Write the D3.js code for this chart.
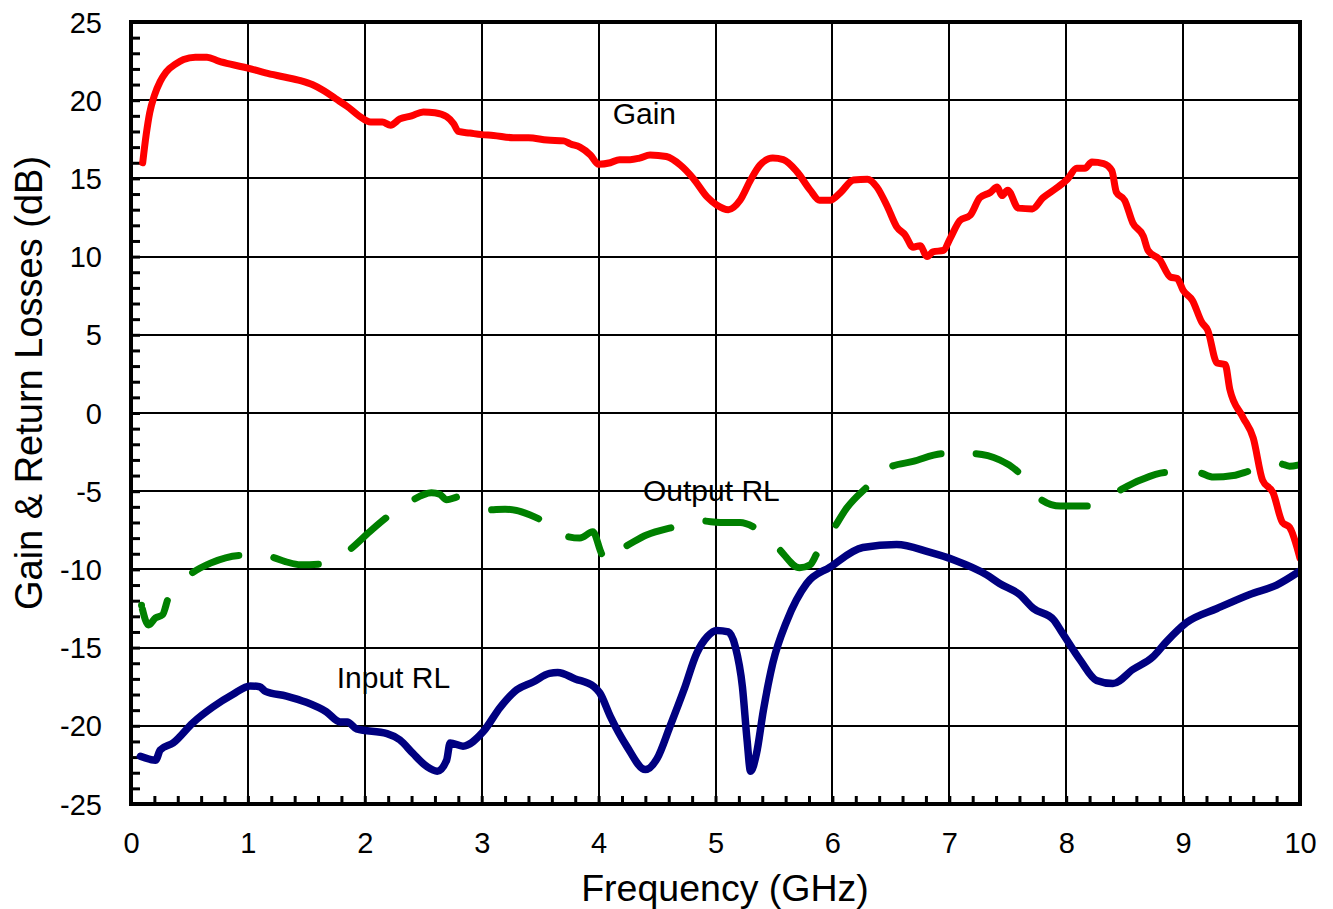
<!DOCTYPE html>
<html>
<head>
<meta charset="utf-8">
<script src="https://cdn.jsdelivr.net/npm/d3@7"></script>
<style>
  html, body { margin: 0; padding: 0; background: #fff; }
  svg { display: block; }
  text { font-family: "Liberation Sans", Arial, sans-serif; fill: #000; }
</style>
</head>
<body>
<svg id="chart" width="1333" height="909"></svg>
<script>
// ---------- data ----------
const xTicks = [0, 1, 2, 3, 4, 5, 6, 7, 8, 9, 10];
const yTicks = [-25, -20, -15, -10, -5, 0, 5, 10, 15, 20, 25];

const gainFreq = [0.10,0.13,0.16,0.20,0.25,0.30,0.38,0.45,0.55,0.65,0.75,0.85,1.00,1.15,1.30,1.45,1.55,1.65,1.75,1.85,1.95,2.05,2.15,2.22,2.30,2.40,2.50,2.60,2.70,2.76,2.80,2.90,3.00,3.10,3.27,3.40,3.56,3.70,3.76,3.84,3.93,4.00,4.10,4.18,4.27,4.35,4.44,4.58,4.70,4.81,4.93,5.01,5.11,5.21,5.30,5.38,5.49,5.58,5.70,5.81,5.89,5.98,6.07,6.18,6.30,6.38,6.47,6.55,6.62,6.69,6.75,6.81,6.86,6.95,7.01,7.09,7.18,7.26,7.35,7.41,7.45,7.50,7.59,7.71,7.80,7.92,8.01,8.09,8.16,8.22,8.32,8.39,8.43,8.50,8.57,8.66,8.70,8.80,8.89,8.95,9.00,9.08,9.16,9.21,9.29,9.36,9.40,9.51,9.60,9.68,9.77,9.85,9.91,10.00];
const gainDb = [16.0,17.8,19.2,20.3,21.2,21.8,22.3,22.6,22.75,22.75,22.5,22.3,22.05,21.75,21.5,21.25,21.0,20.6,20.1,19.6,19.0,18.6,18.6,18.4,18.8,19.0,19.25,19.2,18.95,18.5,18.0,17.9,17.8,17.75,17.6,17.6,17.45,17.4,17.2,17.0,16.5,15.9,16.0,16.2,16.2,16.3,16.5,16.4,15.85,15.0,13.8,13.3,13.0,13.6,14.9,15.85,16.3,16.2,15.4,14.25,13.6,13.6,14.1,14.9,14.95,14.45,13.2,11.9,11.4,10.6,10.7,10.0,10.3,10.4,11.2,12.3,12.65,13.75,14.1,14.45,13.9,14.25,13.1,13.05,13.75,14.4,14.95,15.65,15.65,16.05,15.95,15.5,14.1,13.6,12.15,11.3,10.4,9.8,8.7,8.6,7.85,7.2,5.8,5.3,3.2,3.1,1.5,-0.25,-1.6,-4.3,-5.1,-7.0,-7.3,-9.3];

const inputFreq = [0.08,0.21,0.25,0.36,0.53,0.70,0.87,1.02,1.10,1.15,1.33,1.50,1.67,1.79,1.85,1.93,2.19,2.30,2.41,2.53,2.62,2.70,2.73,2.84,3.01,3.16,3.30,3.44,3.58,3.65,3.80,3.96,4.01,4.10,4.24,4.40,4.50,4.61,4.73,4.84,4.93,5.01,5.11,5.17,5.23,5.27,5.30,5.35,5.41,5.49,5.61,5.78,5.98,6.26,6.55,6.83,7.04,7.32,7.43,7.60,7.72,7.89,7.97,8.12,8.26,8.40,8.57,8.74,8.86,9.03,9.29,9.57,9.80,10.00];
const inputDb = [-21.95,-22.2,-21.55,-21.1,-19.8,-18.8,-18.0,-17.45,-17.5,-17.8,-18.1,-18.5,-19.1,-19.75,-19.75,-20.2,-20.5,-20.9,-21.75,-22.6,-22.9,-22.2,-21.1,-21.3,-20.4,-18.8,-17.7,-17.2,-16.65,-16.6,-17.0,-17.5,-17.9,-19.4,-21.3,-22.8,-22.1,-20.05,-17.7,-15.35,-14.3,-13.9,-14.0,-14.95,-17.5,-20.9,-22.9,-21.8,-19.0,-16.0,-13.3,-10.9,-9.85,-8.6,-8.4,-8.9,-9.4,-10.35,-10.9,-11.6,-12.5,-13.2,-14.1,-15.8,-17.1,-17.3,-16.4,-15.6,-14.6,-13.4,-12.5,-11.6,-11.0,-10.1];

const outputFreq = [0.09,0.15,0.21,0.27,0.32,0.40,0.50,0.68,0.95,1.06,1.19,1.32,1.45,1.63,1.86,2.04,2.20,2.40,2.57,2.64,2.70,2.81,3.05,3.20,3.41,3.51,3.71,3.84,3.95,4.04,4.21,4.41,4.64,4.88,5.04,5.21,5.34,5.53,5.72,5.81,5.87,6.01,6.12,6.30,6.48,6.69,6.95,7.19,7.43,7.60,7.76,7.95,8.20,8.43,8.63,8.86,9.12,9.26,9.43,9.57,9.81,9.91,10.00];
const outputDb = [-12.3,-13.55,-13.1,-12.9,-11.8,-11.0,-10.35,-9.6,-9.1,-9.15,-9.2,-9.5,-9.7,-9.65,-8.8,-7.6,-6.6,-5.6,-5.1,-5.2,-5.55,-5.35,-6.2,-6.15,-6.5,-6.85,-7.85,-8.0,-7.6,-9.1,-8.6,-7.8,-7.3,-6.9,-7.0,-7.0,-7.35,-8.6,-9.9,-9.7,-8.95,-7.4,-6.1,-4.7,-3.5,-3.1,-2.6,-2.6,-3.0,-3.85,-5.4,-5.95,-5.95,-5.05,-4.3,-3.8,-3.8,-4.1,-4.0,-3.7,-3.2,-3.4,-3.3];

// visible dash segments of the Output RL trace (start/end frequency, GHz)
const outputDashStart = [0.09,0.50,1.19,1.86,2.40,3.05,3.71,4.21,4.88,5.53,6.01,6.48,7.19,7.76,8.43,9.12,9.81];
const outputDashEnd   = [0.32,0.95,1.63,2.20,2.81,3.51,4.04,4.64,5.34,5.87,6.30,6.95,7.60,8.20,8.86,9.57,10.00];

const seriesLabels = ["Gain", "Output RL", "Input RL"];

// ---------- layout ----------
const svg = d3.select("#chart");
const L = 131, R = 1300, T = 22, B = 804;
const x = d3.scaleLinear().domain([0, 10]).range([L, R]);
const y = d3.scaleLinear().domain([-25, 25]).range([B, T]);
const fontFam = '"Liberation Sans", Arial, sans-serif';

// grid
const grid = svg.append("g").attr("stroke", "#000").attr("stroke-width", 2);
grid.selectAll("line.v").data(xTicks.slice(1, -1)).join("line")
  .attr("x1", d => Math.round(x(d))).attr("x2", d => Math.round(x(d)))
  .attr("y1", T).attr("y2", B);
grid.selectAll("line.h").data(yTicks.slice(1, -1)).join("line")
  .attr("y1", d => Math.round(y(d))).attr("y2", d => Math.round(y(d)))
  .attr("x1", L).attr("x2", R);

// minor ticks (inside)
svg.append("g").attr("transform", `translate(0,${B})`)
  .call(d3.axisBottom(x).tickValues(d3.range(0, 10.001, 0.2)).tickSize(-8).tickFormat(""))
  .call(g => g.select(".domain").remove())
  .call(g => g.selectAll("line").attr("stroke", "#000").attr("stroke-width", 3));
svg.append("g").attr("transform", `translate(${L},0)`)
  .call(d3.axisLeft(y).tickValues(d3.range(-25, 25.001, 1)).tickSize(-9).tickFormat(""))
  .call(g => g.select(".domain").remove())
  .call(g => g.selectAll("line").attr("stroke", "#000").attr("stroke-width", 3));

// clip
svg.append("clipPath").attr("id", "clip").append("rect")
  .attr("x", L).attr("y", T).attr("width", R - L).attr("height", B - T);

const line = d3.line().x(d => x(d[0])).y(d => y(d[1])).curve(d3.curveMonotoneX);
const plot = svg.append("g").attr("clip-path", "url(#clip)");

// Output RL (dashed): compute dash pattern along the path from segment frequencies
const outPts = d3.zip(outputFreq, outputDb);
const outPath = plot.append("path").datum(outPts)
  .attr("d", line).attr("fill", "none").attr("stroke", "#008000")
  .attr("stroke-width", 7).attr("stroke-linecap", "round").attr("stroke-linejoin", "round");
(function () {
  const node = outPath.node();
  const total = node.getTotalLength();
  // length along path where x reaches px
  function lenAt(f) {
    const px = x(f);
    let lo = 0, hi = total;
    for (let k = 0; k < 40; k++) {
      const mid = (lo + hi) / 2;
      if (node.getPointAtLength(mid).x < px) lo = mid; else hi = mid;
    }
    return (lo + hi) / 2;
  }
  const cap = 3.5;
  const arr = [];
  let pos = 0;
  outputDashStart.forEach((s, i) => {
    const a = Math.max(0, lenAt(s) + cap), b = Math.max(a + 0.5, lenAt(outputDashEnd[i]) - cap);
    if (a - pos > 0) { arr.push(0, a - pos); }
    arr.push(b - a, 0);
    pos = b;
    arr.pop();
    const nextStart = i + 1 < outputDashStart.length ? lenAt(outputDashStart[i + 1]) + cap : total + 100;
    arr.push(nextStart - b);
    pos = nextStart;
  });
  // arr starts with [0, gap0?] structure; normalise into dash/gap pairs
  const dash = [];
  const a0 = lenAt(outputDashStart[0]) + cap;
  let cursor = 0;
  // build explicitly
  const segs = outputDashStart.map((s, i) => [Math.max(0, lenAt(s) + cap), lenAt(outputDashEnd[i]) - cap]);
  segs.forEach(([a, b], i) => {
    if (i === 0) { dash.push(0, a); }
    else dash.push(a - cursor);
    dash.push(Math.max(0.5, b - a));
    cursor = Math.max(a + 0.5, b);
  });
  dash.push(total + 100);
  outPath.attr("stroke-dasharray", dash.map(v => v.toFixed(2)).join(","));
})();

plot.append("path").datum(d3.zip(inputFreq, inputDb))
  .attr("d", line).attr("fill", "none").attr("stroke", "#000080")
  .attr("stroke-width", 7.5).attr("stroke-linecap", "round").attr("stroke-linejoin", "round");
plot.append("path").datum(d3.zip(gainFreq, gainDb))
  .attr("d", line).attr("fill", "none").attr("stroke", "#ff0000")
  .attr("stroke-width", 7).attr("stroke-linecap", "round").attr("stroke-linejoin", "round");

// frame
svg.append("rect").attr("x", L).attr("y", T).attr("width", R - L).attr("height", B - T)
  .attr("fill", "none").attr("stroke", "#000").attr("stroke-width", 4);

// tick labels
svg.append("g").attr("transform", `translate(0,${B})`)
  .call(d3.axisBottom(x).tickValues(xTicks).tickSize(0).tickPadding(0).tickFormat(d => String(d)))
  .call(g => g.select(".domain").remove())
  .call(g => g.selectAll("text").attr("y", 49).attr("dy", null)
    .attr("font-size", 29).attr("font-family", fontFam).attr("fill", "#000"));
svg.append("g").attr("transform", `translate(${L},0)`)
  .call(d3.axisLeft(y).tickValues(yTicks).tickSize(0).tickPadding(0).tickFormat(d => String(d)))
  .call(g => g.select(".domain").remove())
  .call(g => g.selectAll("text").attr("x", -29).attr("dy", "0.35em")
    .attr("font-size", 29).attr("font-family", fontFam).attr("fill", "#000"));

// axis titles
svg.append("text").attr("x", 725).attr("y", 901)
  .attr("text-anchor", "middle").attr("font-size", 37.5).text("Frequency (GHz)");
svg.append("text").attr("transform", "translate(42,383) rotate(-90)")
  .attr("text-anchor", "middle").attr("font-size", 38).text("Gain & Return Losses (dB)");

// series labels
const labelPos = [[4.12, 124], [4.38, 501], [1.76, 688]];
svg.selectAll("text.lbl").data(seriesLabels).join("text").attr("class", "lbl")
  .attr("x", (d, i) => x(labelPos[i][0])).attr("y", (d, i) => labelPos[i][1])
  .attr("font-size", 30).text(d => d);
</script>
</body>
</html>
